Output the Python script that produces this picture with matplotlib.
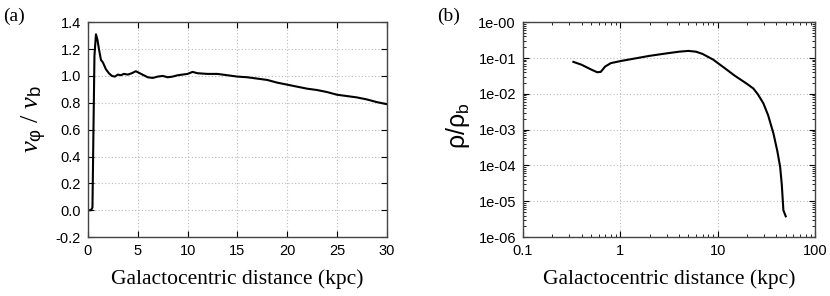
import numpy as np
import matplotlib.pyplot as plt
from matplotlib.ticker import FixedLocator, FuncFormatter, LogLocator, NullFormatter

# (a) rotation curve
r_a = [0.0, 0.3, 0.45, 0.55, 0.65, 0.8, 0.95, 1.1, 1.3, 1.5, 1.8, 2.1, 2.4, 2.7, 3.0, 3.3, 3.6, 4.0,
       4.4, 4.8, 5.2, 5.6, 6.0, 6.5, 7.0, 7.5, 8.0, 8.5, 9.0, 9.5, 10.0, 10.5, 11.0, 12.0, 13.0,
       14.0, 15.0, 16.0, 17.0, 18.0, 19.0, 20.0, 21.0, 22.0, 23.0, 24.0, 25.0, 26.0, 27.0, 28.0,
       29.0, 30.0]
v_a = [0.0, 0.0, 0.02, 0.6, 1.15, 1.31, 1.27, 1.2, 1.12, 1.1, 1.05, 1.02, 1.0, 0.995, 1.01, 1.005,
       1.015, 1.01, 1.02, 1.035, 1.02, 1.005, 0.99, 0.985, 0.995, 1.0, 0.99, 0.995, 1.005, 1.01,
       1.015, 1.03, 1.02, 1.015, 1.015, 1.005, 0.995, 0.99, 0.98, 0.97, 0.95, 0.935, 0.92, 0.905,
       0.895, 0.88, 0.86, 0.85, 0.84, 0.825, 0.805, 0.79]

# (b) density profile
r_b = [0.33, 0.4, 0.5, 0.58, 0.63, 0.7, 0.8, 1.0, 1.5, 2.0, 3.0, 4.0, 5.0, 6.0, 7.0, 9.0, 11.4,
       15.0, 20.0, 23.3, 26.0, 29.5, 33.0, 37.4, 41.0, 43.8, 45.5, 47.3, 50.0]
rho_b = [0.078, 0.065, 0.048, 0.04, 0.041, 0.058, 0.072, 0.082, 0.1, 0.115, 0.135, 0.15, 0.158,
         0.15, 0.13, 0.09, 0.056, 0.032, 0.019, 0.014, 0.0095, 0.0054, 0.0025, 7.8e-4, 2.5e-4,
         9.1e-5, 3e-5, 5.6e-6, 3.8e-6]

serif = ['Liberation Serif', 'DejaVu Serif']
sans = ['Liberation Sans', 'DejaVu Sans']
plt.rcParams['font.family'] = sans
plt.rcParams['mathtext.fontset'] = 'custom'
plt.rcParams['mathtext.rm'] = 'Liberation Serif'
plt.rcParams['mathtext.it'] = 'Liberation Serif:italic'
plt.rcParams['mathtext.sf'] = 'Liberation Sans'

fig = plt.figure(figsize=(8.3, 2.96), dpi=100)
ax1 = fig.add_axes([0.106, 0.199, 0.360, 0.726])
ax2 = fig.add_axes([0.630, 0.199, 0.352, 0.726])

grid_kw = dict(color='#bbbbbb', linestyle=(0, (1, 2)), linewidth=0.8)

# panel (a)
ax1.plot(r_a, v_a, color='black', linewidth=1.5)
ax1.set_xlim(0, 30)
ax1.set_ylim(-0.2, 1.4)
ax1.set_xticks(np.arange(0, 31, 5))
ax1.set_yticks(np.arange(-0.2, 1.41, 0.2))
ax1.yaxis.set_major_formatter(FuncFormatter(lambda v, p: '%.1f' % v))
ax1.grid(True, **grid_kw)
ax1.set_xlabel('Galactocentric distance (kpc)', family=serif, fontsize=15.5, labelpad=8)
ax1.set_ylabel(r'$v_{\mathsf{\varphi}}$ / $v_{\mathsf{b}}$', family=serif, fontsize=19)
ax1.yaxis.set_label_coords(-0.13, 0.55)
ax1.text(-0.284, 1.025, '(a)', transform=ax1.transAxes, family=serif, fontsize=14, va='center')

# panel (b)
ax2.plot(r_b, rho_b, color='black', linewidth=1.5)
ax2.set_xscale('log')
ax2.set_yscale('log')
ax2.set_xlim(0.1, 100)
ax2.set_ylim(1e-6, 1)
ax2.xaxis.set_major_locator(FixedLocator([0.1, 1, 10, 100]))
ax2.xaxis.set_major_formatter(FuncFormatter(lambda v, p: '%g' % v))
ax2.xaxis.set_minor_locator(LogLocator(base=10, subs=np.arange(2, 10)))
ax2.xaxis.set_minor_formatter(NullFormatter())
ax2.yaxis.set_major_locator(FixedLocator([10.0 ** k for k in range(-6, 1)]))
ax2.yaxis.set_major_formatter(FuncFormatter(lambda v, p: '1e-%02d' % round(-np.log10(v))))
ax2.yaxis.set_minor_locator(LogLocator(base=10, subs=np.arange(2, 10)))
ax2.yaxis.set_minor_formatter(NullFormatter())
ax2.grid(True, which='major', **grid_kw)
ax2.set_xlabel('Galactocentric distance (kpc)', family=serif, fontsize=15.5, labelpad=8)
ax2.set_ylabel(r'$\mathsf{\rho/\rho_{b}}$', fontsize=18)
ax2.yaxis.set_label_coords(-0.175, 0.52)
ax2.text(-0.295, 1.025, '(b)', transform=ax2.transAxes, family=serif, fontsize=14, va='center')

for ax in (ax1, ax2):
    ax.tick_params(which='both', direction='in', top=True, right=True, labelsize=10.5)
    ax.tick_params(which='major', length=4, pad=5)
    ax.tick_params(which='minor', length=2)
    for s in ax.spines.values():
        s.set_color('#444444')
        s.set_linewidth(1.0)

fig.savefig('out.png', dpi=100)
